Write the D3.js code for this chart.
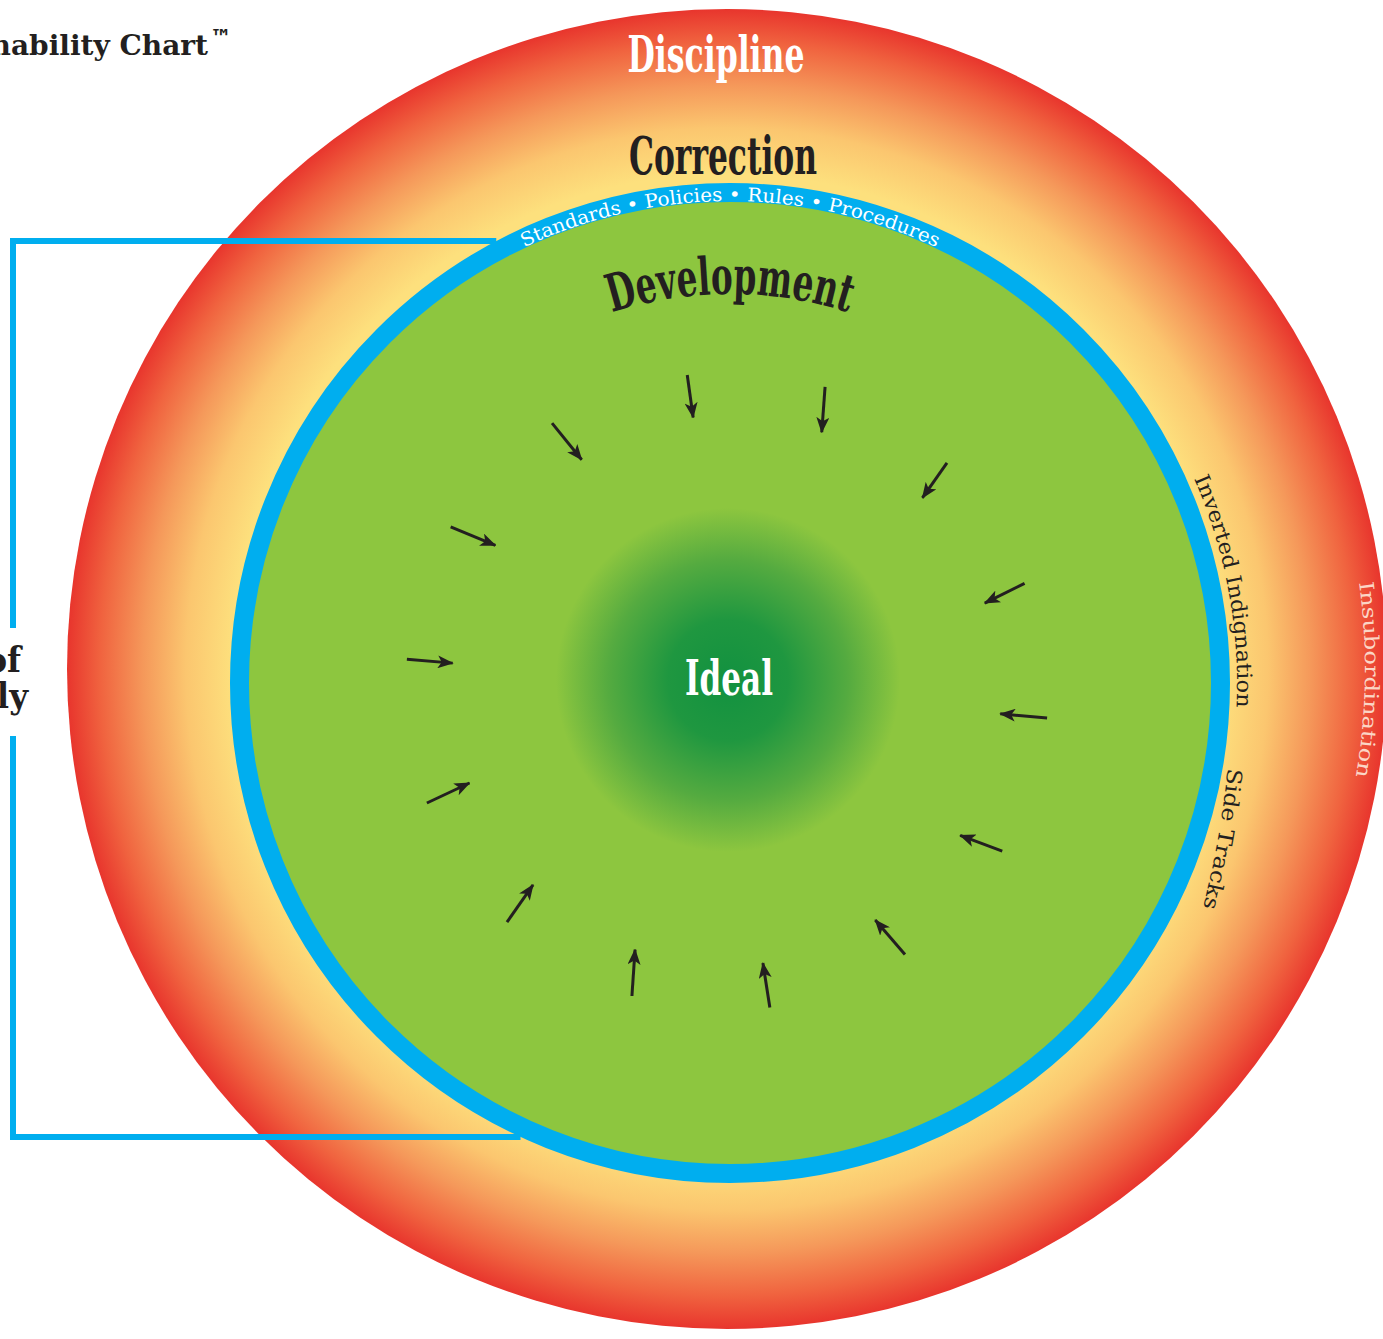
<!DOCTYPE html>
<html>
<head>
<meta charset="utf-8">
<script src="https://d3js.org/d3.v7.min.js"></script>
<style>
  html, body { margin: 0; padding: 0; background: #fff; overflow: hidden; }
  svg { display: block; }
</style>
</head>
<body>
<div id="container"></div>
<script>
/* CONSTANTS AND GLOBALS */
const width = 1383;
const height = 1339;

/* DATA */
const titleText = "Sustainability Chart";
const sideLabel = ["Sphere of", "Family"];
const zoneLabels = ["Discipline", "Correction", "Development", "Ideal"];
const boundaryTerms = ["Standards", "Policies", "Rules", "Procedures"];
const driftLabels = ["Inverted Indignation", "Side Tracks"];
const outerLabel = "Insubordination";

// arrows pointing to the ideal: bearing (deg, clockwise from top) and radius (share of ring radius)
const arrowTailBearing = [-7.9, 17.8, 44.6, 71.3, 96.3, 121.7, 147.2, 173.0, 197.4, 223.0, 248.4, 274.2, 299.2, 325.6];
const arrowHeadBearing = [-7.9, 20.1, 46.1, 72.6, 96.5, 123.5, 148.5, 173.3, 199.6, 224.3, 249.0, 274.1, 300.4, 326.4];
const arrowTailR = [0.622, 0.622, 0.618, 0.622, 0.638, 0.640, 0.646, 0.654, 0.656, 0.654, 0.652, 0.648, 0.640, 0.630];
const arrowHeadR = [0.536, 0.534, 0.534, 0.534, 0.544, 0.552, 0.556, 0.564, 0.566, 0.564, 0.558, 0.556, 0.544, 0.536];

/* LAYOUT */
const ring = { cx: 730, cy: 683, r: 500, w: 19 };
const outer = { cx: 727, cy: 669, r: 660 };
const blue = "#00aeef";
const green = "#8dc63f";
const ink = "#231f20";
const display = "'DejaVu Serif Condensed', 'DejaVu Serif', serif";
const slab = "'DejaVu Serif', serif";

/* SCALES */
const angle = d3.scaleLinear().domain([0, 360]).range([0, 2 * Math.PI]);
const radius = d3.scaleLinear().domain([0, 1]).range([0, ring.r]);
const polar = (b, r) => [ring.cx + radius(r) * Math.sin(angle(b)), ring.cy - radius(r) * Math.cos(angle(b))];

const arrows = arrowTailBearing.map((b, i) => ({
  tail: polar(b, arrowTailR[i]),
  head: polar(arrowHeadBearing[i], arrowHeadR[i])
}));

const svg = d3.select('#container')
  .append('svg')
  .attr('width', width)
  .attr('height', height);

const defs = svg.append('defs');

// outer red -> yellow glow
const og = defs.append('radialGradient').attr('id', 'outerGrad')
  .attr('gradientUnits', 'userSpaceOnUse')
  .attr('cx', outer.cx).attr('cy', outer.cy).attr('r', outer.r);
[[0, "#fde07d"], [0.75, "#fde07d"], [0.82, "#fbc66f"], [0.885, "#f5985a"], [0.95, "#f0633f"], [1, "#e8352d"]]
  .forEach(s => og.append('stop').attr('offset', s[0]).attr('stop-color', s[1]));

// ideal dark green core
const ig = defs.append('radialGradient').attr('id', 'idealGrad')
  .attr('gradientUnits', 'userSpaceOnUse')
  .attr('cx', 728).attr('cy', 680).attr('r', 172);
[[0, "#129140"], [0.35, "#1f9740"], [0.7, "#55ab40"], [1, green]]
  .forEach(s => ig.append('stop').attr('offset', s[0]).attr('stop-color', s[1]));

defs.append('marker').attr('id', 'head')
  .attr('viewBox', '0 0 16 13').attr('refX', 15).attr('refY', 6.5)
  .attr('markerWidth', 16).attr('markerHeight', 13)
  .attr('markerUnits', 'userSpaceOnUse').attr('orient', 'auto')
  .append('path').attr('d', 'M0,0 L16,6.5 L0,13 L4,6.5 Z').attr('fill', ink);

/* HTML ELEMENTS */
svg.append('circle')
  .attr('cx', outer.cx).attr('cy', outer.cy).attr('r', outer.r)
  .attr('fill', 'url(#outerGrad)');

// bracket on the left
const ringX = y => ring.cx - Math.sqrt(ring.r * ring.r - (y - ring.cy) * (y - ring.cy));
svg.append('path')
  .attr('d', `M${ringX(241)},241 H13 V628 M13,736 V1137 H${ringX(1137)}`)
  .attr('fill', 'none').attr('stroke', blue).attr('stroke-width', 6);

svg.append('circle')
  .attr('cx', ring.cx).attr('cy', ring.cy).attr('r', ring.r - ring.w / 2)
  .attr('fill', green).attr('stroke', blue).attr('stroke-width', ring.w);

svg.append('circle')
  .attr('cx', 728).attr('cy', 680).attr('r', 172)
  .attr('fill', 'url(#idealGrad)');

svg.selectAll('line.arrow')
  .data(arrows)
  .join('line')
  .attr('class', 'arrow')
  .attr('x1', d => d.tail[0]).attr('y1', d => d.tail[1])
  .attr('x2', d => d.head[0]).attr('y2', d => d.head[1])
  .attr('stroke', ink).attr('stroke-width', 3)
  .attr('marker-end', 'url(#head)');

// title and side label
svg.append('text')
  .attr('x', 208).attr('y', 55).attr('text-anchor', 'end')
  .attr('font-family', slab).attr('font-weight', 'bold').attr('font-size', 28)
  .attr('fill', ink).text(titleText);
svg.append('text')
  .attr('x', 210).attr('y', 45)
  .attr('font-family', "'DejaVu Sans', sans-serif").attr('font-weight', 'bold').attr('font-size', 22)
  .attr('fill', ink).text("™");

svg.selectAll('text.side')
  .data(sideLabel)
  .join('text')
  .attr('class', 'side')
  .attr('x', (d, i) => i ? 28 : 21).attr('y', (d, i) => 672 + i * 36)
  .attr('text-anchor', 'end')
  .attr('font-family', display).attr('font-weight', 'bold').attr('font-size', 36)
  .attr('fill', ink).text(d => d);

// straight zone titles
const straight = [
  { t: zoneLabels[0], x: 716, y: 72, size: 50, len: 177, fill: "#fff" },
  { t: zoneLabels[1], x: 723, y: 174, size: 52, len: 188, fill: ink },
  { t: zoneLabels[3], x: 729, y: 695, size: 48, len: 88, fill: "#fff" }
];
svg.selectAll('text.zone')
  .data(straight)
  .join('text')
  .attr('class', 'zone')
  .attr('x', d => d.x).attr('y', d => d.y)
  .attr('text-anchor', 'middle')
  .attr('textLength', d => d.len).attr('lengthAdjust', 'spacingAndGlyphs')
  .attr('font-family', display).attr('font-weight', 'bold').attr('font-size', d => d.size)
  .attr('fill', d => d.fill).text(d => d.t);

// curved texts around the ring
const g = svg.append('g').attr('transform', `translate(${ring.cx},${ring.cy})`);
const arcPath = (r, b0, b1) => {
  const p = b => [r * Math.sin(angle(b)), -r * Math.cos(angle(b))];
  const [x0, y0] = p(b0), [x1, y1] = p(b1);
  return `M${x0},${y0} A${r},${r} 0 0 1 ${x1},${y1}`;
};

defs.append('path').attr('id', 'devArc').attr('d', arcPath(389, -30, 30));
defs.append('path').attr('id', 'ruleArc').attr('d', arcPath(482, -25.3, 25.1));
defs.append('path').attr('id', 'invArc').attr('d', arcPath(507, 66.2, 92.8));
defs.append('path').attr('id', 'sideArc')
  .attr('d', d3.lineRadial().curve(d3.curveNatural)
    .angle(d => angle(d[0])).radius(d => d[1])([[99.7, 505], [107.5, 512], [115.5, 524]]));

const curved = [
  { id: 'devArc', t: zoneLabels[2], size: 52, len: 240, off: '50%', anchor: 'middle', fill: ink, font: display, weight: 'bold' },
  { id: 'ruleArc', t: boundaryTerms.join(' • '), size: 19, len: 426, off: '0%', anchor: 'start', fill: '#fff', font: slab, weight: 'normal' },
  { id: 'invArc', t: driftLabels[0], size: 21, len: 235, off: '0%', anchor: 'start', fill: ink, font: slab, weight: 'normal' },
  { id: 'sideArc', t: driftLabels[1], size: 21, len: 142, off: '0%', anchor: 'start', fill: ink, font: slab, weight: 'normal' }
];
g.selectAll('text.curve')
  .data(curved)
  .join('text')
  .attr('class', 'curve')
  .attr('font-family', d => d.font).attr('font-weight', d => d.weight)
  .attr('font-size', d => d.size).attr('fill', d => d.fill)
  .append('textPath')
  .attr('href', d => '#' + d.id)
  .attr('startOffset', d => d.off).attr('text-anchor', d => d.anchor)
  .attr('textLength', d => d.len).attr('lengthAdjust', 'spacingAndGlyphs')
  .text(d => d.t);

// outer ring label
const go = svg.append('g').attr('transform', `translate(${outer.cx},${outer.cy})`);
defs.append('path').attr('id', 'insArc').attr('d', arcPath(638, 82.2, 99.7));
go.append('text')
  .attr('font-family', slab).attr('font-size', 20).attr('fill', '#fbd6c6')
  .append('textPath').attr('href', '#insArc')
  .attr('textLength', 195).attr('lengthAdjust', 'spacingAndGlyphs')
  .text(outerLabel);
</script>
</body>
</html>
